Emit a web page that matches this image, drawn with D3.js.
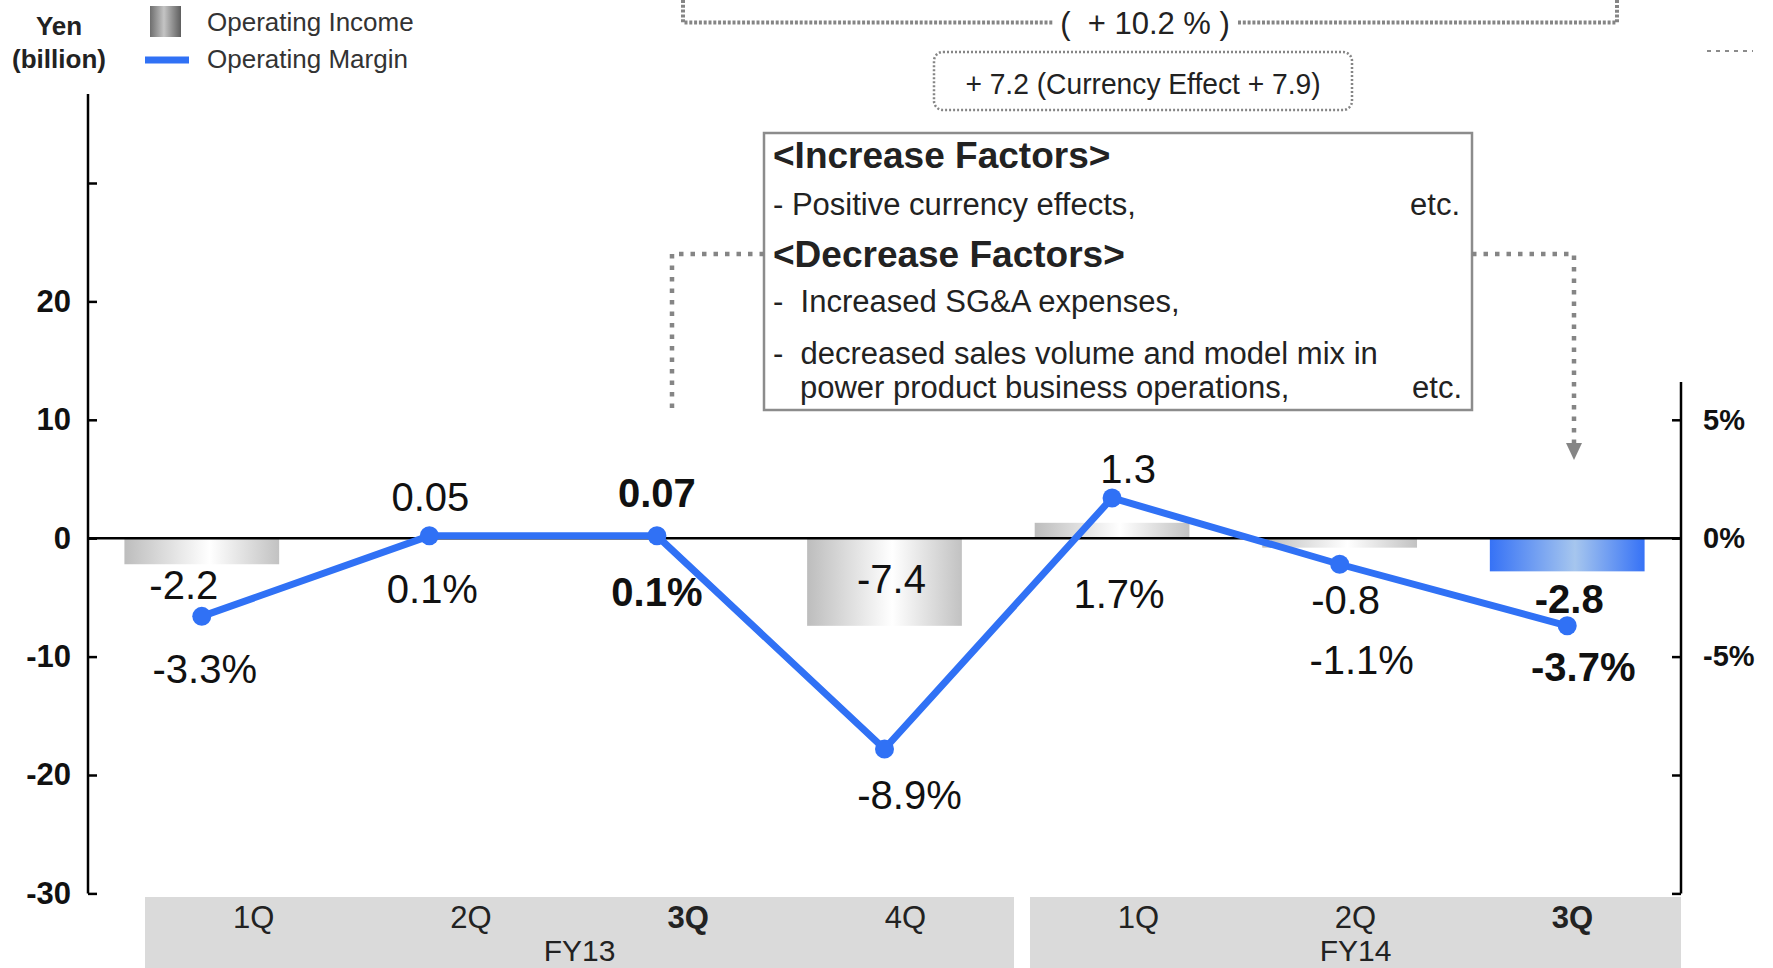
<!DOCTYPE html>
<html>
<head>
<meta charset="utf-8">
<script src="https://cdn.jsdelivr.net/npm/d3@7"></script>
<style>
  html, body { margin: 0; padding: 0; background: #fff; }
  svg { display: block; font-family: "Liberation Sans", Arial, sans-serif; }
  .pre { white-space: pre; }
</style>
</head>
<body>
<svg id="drawing_region"></svg>
<script>
// ---- data ----
const quarters = ['1Q', '2Q', '3Q', '4Q', '1Q', '2Q', '3Q'];
const fiscalYears = ['FY13', 'FY14'];
const yearOfQuarter = [0, 0, 0, 0, 1, 1, 1];
const operatingIncome = [-2.2, 0.05, 0.07, -7.4, 1.3, -0.8, -2.8];
const incomeLabels = ['-2.2', '0.05', '0.07', '-7.4', '1.3', '-0.8', '-2.8'];
const operatingMargin = [-3.3, 0.1, 0.1, -8.9, 1.7, -1.1, -3.7];
const marginLabels = ['-3.3%', '0.1%', '0.1%', '-8.9%', '1.7%', '-1.1%', '-3.7%'];
const leftTicks = [30, 20, 10, 0, -10, -20, -30];
const leftTickLabels = ['', '20', '10', '0', '-10', '-20', '-30'];
const rightTicks = [5, 0, -5, -10, -15];
const rightTickLabels = ['5%', '0%', '-5%', '', ''];
const currentIndex = 6;
const highlighted = [2, 6];

// ---- label placement (pixel offsets from each mark) ----
const incomeLabelDx = [-18, 1, 0, 7, 16, 6, 2];
const incomeLabelDy = [21, -41, -44, -47, -54, 52, 28];
const marginLabelDx = [3, 3, 0, 25, 7, 22, 16];
const marginLabelDy = [53, 53, 56, 46, 96, 96, 41];

const W = 1773, H = 968;
const svg = d3.select('#drawing_region').attr('width', W).attr('height', H);
const defs = svg.append('defs');

function hgrad(id, stops) {
  const g = defs.append('linearGradient').attr('id', id)
    .attr('x1', '0%').attr('x2', '100%').attr('y1', '0%').attr('y2', '0%');
  stops.forEach(s => g.append('stop').attr('offset', s[0]).attr('stop-color', s[1]));
}
hgrad('grayBar', [[0, '#bdbdbd'], [0.55, '#ffffff'], [1, '#c2c2c2']]);
hgrad('blueBar', [[0, '#3672f6'], [0.55, '#a6c6ee'], [1, '#3672f6']]);
hgrad('legendGray', [[0, '#6e6e6e'], [0.45, '#c4c4c4'], [1, '#5e5e5e']]);

const axisLeftX = 88, axisRightX = 1681;
const x = d3.scaleBand().domain(d3.range(quarters.length))
  .range([axisLeftX, axisRightX]).paddingInner(0.32).paddingOuter(0.16);
const y = d3.scaleLinear().domain([-30, 20]).range([893.4, 301.4]);
const y2 = d3.scaleLinear().domain([-5, 5]).range([656.6, 419.8]);
const cx = i => x(i) + x.bandwidth() / 2;

const BLUE = '#3071f5';
const TEXT = '#111';

// ---- category band at bottom ----
const bandEdges = [[145, 1014], [1030, axisRightX]];
svg.append('g').selectAll('rect').data(fiscalYears).join('rect')
  .attr('x', (d, i) => bandEdges[i][0]).attr('y', 897)
  .attr('width', (d, i) => bandEdges[i][1] - bandEdges[i][0]).attr('height', 80)
  .attr('fill', '#dadada');

// quarter labels sit evenly spaced inside their fiscal-year band
function quarterX(i) {
  const yr = yearOfQuarter[i];
  const members = yearOfQuarter.map((v, j) => v === yr ? j : -1).filter(j => j >= 0);
  const k = members.indexOf(i);
  const [a, b] = bandEdges[yr];
  return a + (k + 0.5) * (b - a) / members.length;
}
svg.append('g').selectAll('text').data(quarters).join('text')
  .attr('x', (d, i) => quarterX(i)).attr('y', 917)
  .attr('text-anchor', 'middle').attr('dominant-baseline', 'central')
  .attr('font-size', 31).attr('fill', '#222')
  .attr('font-weight', (d, i) => highlighted.includes(i) ? 'bold' : 'normal')
  .text(d => d);

svg.append('g').selectAll('text').data(fiscalYears).join('text')
  .attr('x', (d, k) => (bandEdges[k][0] + bandEdges[k][1]) / 2).attr('y', 950)
  .attr('text-anchor', 'middle').attr('dominant-baseline', 'central')
  .attr('font-size', 30).attr('fill', '#222')
  .text(d => d);

// ---- bars ----
svg.append('g').selectAll('rect').data(operatingIncome).join('rect')
  .attr('x', (d, i) => x(i))
  .attr('y', d => Math.min(y(d), y(0)))
  .attr('width', x.bandwidth())
  .attr('height', d => Math.max(1.2, Math.abs(y(d) - y(0))))
  .attr('fill', (d, i) => i === currentIndex ? 'url(#blueBar)' : 'url(#grayBar)');

// ---- axes ----
const leftAxis = d3.axisLeft(y).tickValues(leftTicks).tickSize(-9).tickPadding(17)
  .tickFormat((d, i) => leftTickLabels[i]);
const gl = svg.append('g').attr('transform', `translate(${axisLeftX},0)`).call(leftAxis);
gl.select('.domain').remove();
gl.append('line').attr('x1', 0).attr('x2', 0).attr('y1', 94).attr('y2', y(-30))
  .attr('stroke', '#000').attr('stroke-width', 2.5);
gl.selectAll('.tick line').attr('stroke', '#000').attr('stroke-width', 2.5);
gl.selectAll('.tick text').attr('font-size', 31).attr('font-weight', 'bold')
  .attr('fill', TEXT).attr('font-family', '"Liberation Sans", Arial, sans-serif');

const rightAxis = d3.axisRight(y2).tickValues(rightTicks).tickSize(-9).tickPadding(22)
  .tickFormat((d, i) => rightTickLabels[i]);
const gr = svg.append('g').attr('transform', `translate(${axisRightX},0)`).call(rightAxis);
gr.select('.domain').remove();
gr.append('line').attr('x1', 0).attr('x2', 0).attr('y1', 382).attr('y2', y(-30))
  .attr('stroke', '#000').attr('stroke-width', 2.5);
gr.selectAll('.tick line').attr('stroke', '#000').attr('stroke-width', 2.5);
gr.selectAll('.tick text').attr('font-size', 29).attr('font-weight', 'bold')
  .attr('fill', TEXT).attr('font-family', '"Liberation Sans", Arial, sans-serif');

// zero line
svg.append('line').attr('x1', axisLeftX).attr('x2', axisRightX)
  .attr('y1', y(0)).attr('y2', y(0)).attr('stroke', '#000').attr('stroke-width', 2.5);

// ---- margin line ----
const line = d3.line().x((d, i) => cx(i)).y(d => y2(d));
svg.append('path').datum(operatingMargin).attr('d', line)
  .attr('fill', 'none').attr('stroke', BLUE).attr('stroke-width', 7)
  .attr('stroke-linejoin', 'round');
svg.append('g').selectAll('circle').data(operatingMargin).join('circle')
  .attr('cx', (d, i) => cx(i)).attr('cy', d => y2(d)).attr('r', 9.5).attr('fill', BLUE);

// ---- value labels ----
svg.append('g').selectAll('text').data(incomeLabels).join('text')
  .attr('x', (d, i) => cx(i) + incomeLabelDx[i])
  .attr('y', (d, i) => y(operatingIncome[i]) + incomeLabelDy[i])
  .attr('text-anchor', 'middle').attr('dominant-baseline', 'central')
  .attr('font-size', 40).attr('fill', TEXT)
  .attr('font-weight', (d, i) => highlighted.includes(i) ? 'bold' : 'normal')
  .text(d => d);

svg.append('g').selectAll('text').data(marginLabels).join('text')
  .attr('x', (d, i) => cx(i) + marginLabelDx[i])
  .attr('y', (d, i) => y2(operatingMargin[i]) + marginLabelDy[i])
  .attr('text-anchor', 'middle').attr('dominant-baseline', 'central')
  .attr('font-size', 40).attr('fill', TEXT)
  .attr('font-weight', (d, i) => highlighted.includes(i) ? 'bold' : 'normal')
  .text(d => d);

// ---- legend ----
const lg = svg.append('g');
lg.append('text').attr('x', 59).attr('y', 26).attr('text-anchor', 'middle')
  .attr('dominant-baseline', 'central').attr('font-size', 26).attr('font-weight', 'bold')
  .attr('fill', '#222').text('Yen');
lg.append('text').attr('x', 59).attr('y', 59).attr('text-anchor', 'middle')
  .attr('dominant-baseline', 'central').attr('font-size', 26).attr('font-weight', 'bold')
  .attr('fill', '#222').text('(billion)');
lg.append('rect').attr('x', 150).attr('y', 6).attr('width', 31).attr('height', 31)
  .attr('fill', 'url(#legendGray)');
lg.append('line').attr('x1', 145).attr('x2', 189).attr('y1', 60).attr('y2', 60)
  .attr('stroke', BLUE).attr('stroke-width', 7);
lg.append('text').attr('x', 207).attr('y', 22).attr('dominant-baseline', 'central')
  .attr('font-size', 26).attr('fill', '#333').text('Operating Income');
lg.append('text').attr('x', 207).attr('y', 59).attr('dominant-baseline', 'central')
  .attr('font-size', 26).attr('fill', '#333').text('Operating Margin');

// ---- annotations ----
const ann = svg.append('g');
const DOT = '#858585';
ann.append('path')
  .attr('d', 'M683,0 L683,22.5 L1053,22.5 M1238,22.5 L1617,22.5 L1617,0')
  .attr('fill', 'none').attr('stroke', DOT).attr('stroke-width', 4)
  .attr('stroke-dasharray', '3,1.8');
ann.append('text').attr('x', 1145).attr('y', 23).attr('text-anchor', 'middle')
  .attr('dominant-baseline', 'central').attr('font-size', 31).attr('fill', '#222')
  .attr('class', 'pre')
  .text('(  + 10.2 % )');
ann.append('line').attr('x1', 1707).attr('x2', 1753).attr('y1', 51).attr('y2', 51)
  .attr('stroke', '#666').attr('stroke-width', 1.5).attr('stroke-dasharray', '4,5');

ann.append('rect').attr('x', 934).attr('y', 52).attr('width', 418).attr('height', 58)
  .attr('rx', 9).attr('fill', 'none').attr('stroke', DOT).attr('stroke-width', 2.5)
  .attr('stroke-dasharray', '2,2');
ann.append('text').attr('x', 1143).attr('y', 84).attr('text-anchor', 'middle')
  .attr('dominant-baseline', 'central').attr('font-size', 30).attr('fill', '#222')
  .attr('transform', 'translate(1143,0) scale(0.94,1) translate(-1143,0)')
  .text('+ 7.2 (Currency Effect + 7.9)');

// factors box
ann.append('rect').attr('x', 764).attr('y', 133).attr('width', 708).attr('height', 277)
  .attr('fill', '#fff').attr('stroke', '#8c8c8c').attr('stroke-width', 2.5);
const boxLines = [
  {t: '<Increase Factors>', x: 773, y: 155, b: true, s: 37},
  {t: '- Positive currency effects,', x: 773, y: 204, b: false, s: 31},
  {t: 'etc.', x: 1460, y: 204, b: false, s: 31, a: 'end'},
  {t: '<Decrease Factors>', x: 773, y: 254, b: true, s: 37},
  {t: '-  Increased SG&A expenses,', x: 773, y: 301, b: false, s: 31},
  {t: '-  decreased sales volume and model mix in', x: 773, y: 353, b: false, s: 31},
  {t: 'power product business operations,', x: 800, y: 387, b: false, s: 31},
  {t: 'etc.', x: 1462, y: 387, b: false, s: 31, a: 'end'}
];
ann.selectAll('text.box').data(boxLines).join('text').attr('class', 'box pre')
  .attr('x', d => d.x).attr('y', d => d.y)
  .attr('text-anchor', d => d.a || 'start').attr('dominant-baseline', 'central')
  .attr('font-size', d => d.s).attr('font-weight', d => d.b ? 'bold' : 'normal')
  .attr('fill', '#222').text(d => d.t);

// connectors
ann.append('path').attr('d', 'M764,254 L672,254 L672,410')
  .attr('fill', 'none').attr('stroke', DOT).attr('stroke-width', 4.5)
  .attr('stroke-dasharray', '4.5,7');
ann.append('path').attr('d', 'M1472,254 L1574,254 L1574,445')
  .attr('fill', 'none').attr('stroke', DOT).attr('stroke-width', 4.5)
  .attr('stroke-dasharray', '4.5,7');
ann.append('path').attr('d', 'M1566,443 L1582,443 L1574,460 Z').attr('fill', DOT);
</script>
</body>
</html>
